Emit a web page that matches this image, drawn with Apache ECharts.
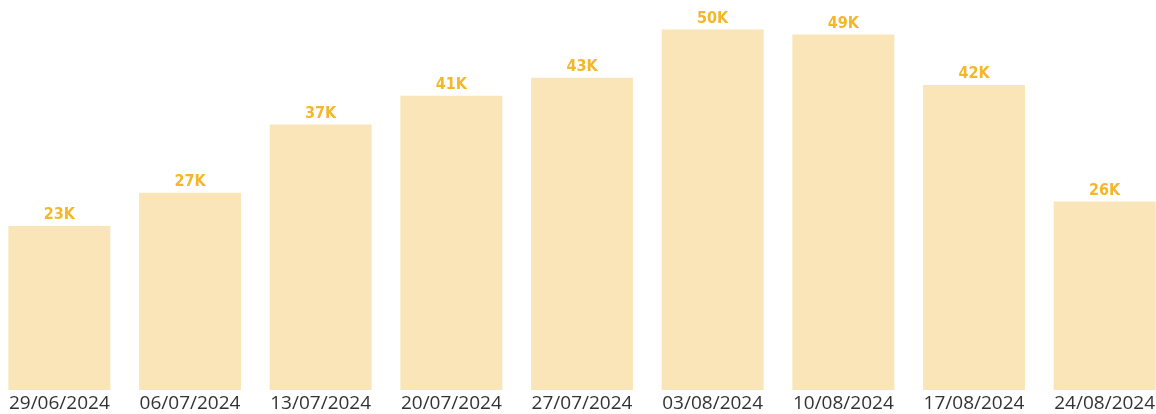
<!DOCTYPE html>
<html>
<head>
<meta charset="utf-8">
<script src="https://cdn.jsdelivr.net/npm/echarts@6/dist/echarts.min.js"></script>
<style>
  html, body { margin: 0; padding: 0; background: #fff; overflow: hidden; }
  /* plot runs a little past both edges of the window */
  #chart { width: 1176px; height: 414px; margin-left: -6px; }
</style>
</head>
<body>
<div id="chart"></div>
<script>
// weekly dates
const weeks = ['29/06/2024', '06/07/2024', '13/07/2024', '20/07/2024', '27/07/2024',
               '03/08/2024', '10/08/2024', '17/08/2024', '24/08/2024'];
// values
const totals = [22800, 27400, 36900, 40900, 43400, 50100, 49400, 42400, 26200];

const chart = echarts.init(document.getElementById('chart'));

chart.setOption({
    animation: false,
    grid: { left: 0, right: 0, top: 0, bottom: 24, containLabel: false },
    xAxis: {
        type: 'category',
        data: weeks,
        axisLine: { show: false },
        axisTick: { show: false },
        axisLabel: {
            color: '#333',
            fontSize: 19,
            fontFamily: 'Open Sans',
            margin: 4,
            interval: 0
        }
    },
    yAxis: {
        type: 'value',
        min: 0,
        max: 54200,
        show: false
    },
    series: [{
        type: 'bar',
        data: totals,
        barCategoryGap: '22%',
        itemStyle: { color: '#F9E5B8' },
        label: {
            show: true,
            position: 'top',
            distance: 3,
            color: '#F5B62A',
            fontWeight: 'bold',
            fontSize: 16,
            fontFamily: 'DejaVu Sans Condensed',
            formatter: p => Math.round(p.value / 1000) + 'K'
        }
    }]
});
</script>
</body>
</html>
